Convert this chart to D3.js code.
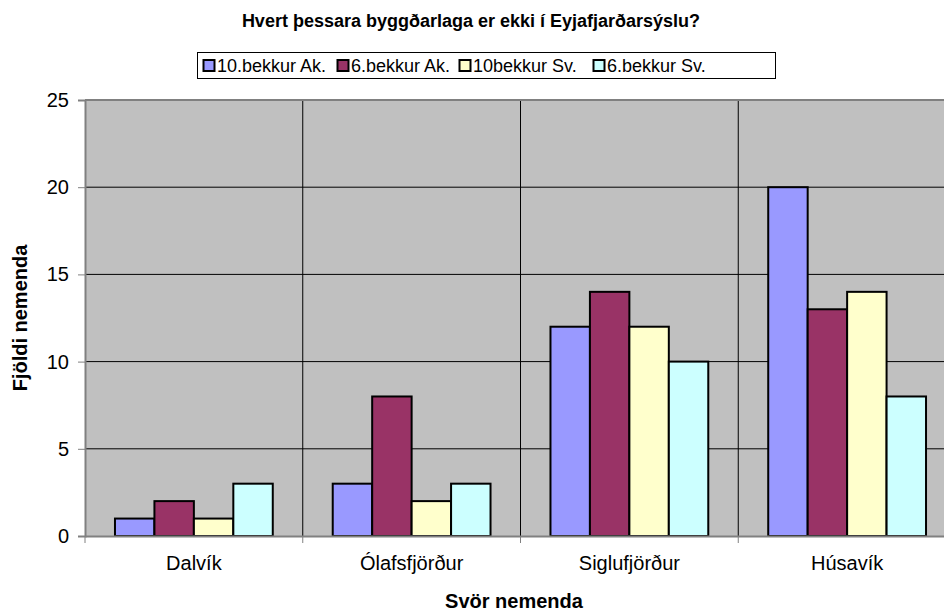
<!DOCTYPE html>
<html>
<head>
<meta charset="utf-8">
<script src="https://cdn.jsdelivr.net/npm/d3@7"></script>
<style>
  body { margin: 0; background: #fff; }
  text { font-family: "Liberation Sans", Arial, sans-serif; }
</style>
</head>
<body>
<svg width="944" height="613"></svg>
<script>
// data
var categories = ["Dalvík", "Ólafsfjörður", "Siglufjörður", "Húsavík"];
var seriesNames = ["10.bekkur Ak.", "6.bekkur Ak.", "10bekkur Sv.", "6.bekkur Sv."];
var seriesColors = ["#9999FF", "#993366", "#FFFFCC", "#CCFFFF"];
var tenAk = [1, 3, 12, 20];
var sixAk = [2, 8, 14, 13];
var tenSv = [1, 2, 12, 14];
var sixSv = [3, 3, 10, 8];
var yTicks = [0, 5, 10, 15, 20, 25];

var seriesValues = [tenAk, sixAk, tenSv, sixSv];

var svg = d3.select("svg");
var plotLeft = 85, plotTop = 100, plotRight = 956, plotBottom = 536;

var x = d3.scaleBand().domain(categories).range([plotLeft, plotRight]);
var x1 = d3.scaleBand().domain(d3.range(seriesNames.length))
    .range([0, x.bandwidth()]).paddingOuter(0.76);
var y = d3.scaleLinear().domain([0, 25]).range([plotBottom, plotTop]);

// plot background
svg.append("rect")
    .attr("x", plotLeft).attr("y", plotTop)
    .attr("width", plotRight - plotLeft).attr("height", plotBottom - plotTop)
    .attr("fill", "#C0C0C0");

// horizontal gridlines
svg.append("g").selectAll("line")
  .data(yTicks.filter(d => d > 0 && d < 25))
  .enter().append("line")
    .attr("x1", plotLeft).attr("x2", plotRight)
    .attr("y1", d => y(d)).attr("y2", d => y(d))
    .attr("stroke", "#000").attr("stroke-width", 1);

// vertical gridlines between categories
svg.append("g").selectAll("line")
  .data(categories.slice(1))
  .enter().append("line")
    .attr("x1", d => x(d)).attr("x2", d => x(d))
    .attr("y1", plotTop).attr("y2", plotBottom)
    .attr("stroke", "#000").attr("stroke-width", 1);

// top border
svg.append("line")
    .attr("x1", plotLeft).attr("x2", plotRight)
    .attr("y1", plotTop).attr("y2", plotTop)
    .attr("stroke", "#808080").attr("stroke-width", 2);

// bars
svg.append("g").selectAll("g")
  .data(seriesValues)
  .enter().append("g")
    .attr("fill", (d, i) => seriesColors[i])
  .each(function(vals, si) {
    d3.select(this).selectAll("rect")
      .data(vals)
      .enter().append("rect")
        .attr("x", (v, ci) => x(categories[ci]) + x1(si))
        .attr("y", v => y(v))
        .attr("width", x1.bandwidth())
        .attr("height", v => plotBottom - y(v))
        .attr("stroke", "#000")
        .attr("stroke-width", 2);
  });

// y axis
var yAxis = svg.append("g")
    .attr("transform", "translate(" + plotLeft + ",0)")
    .call(d3.axisLeft(y).tickValues(yTicks).tickSize(7).tickPadding(9));
yAxis.select(".domain").attr("stroke", "#808080").attr("stroke-width", 2);
yAxis.selectAll(".tick line").attr("stroke", "#808080").attr("stroke-width", 1);
yAxis.selectAll(".tick text").attr("font-size", 20).attr("fill", "#000")
    .attr("font-family", "Liberation Sans, Arial, sans-serif");

// x axis
var xAxis = svg.append("g")
    .attr("transform", "translate(0," + plotBottom + ")")
    .call(d3.axisBottom(x).tickSize(0).tickPadding(20));
xAxis.select(".domain").attr("stroke", "#808080").attr("stroke-width", 2);
xAxis.selectAll(".tick text").attr("font-size", 20).attr("fill", "#000")
    .attr("font-family", "Liberation Sans, Arial, sans-serif");
// category boundary ticks
svg.append("g").selectAll("line")
  .data(categories)
  .enter().append("line")
    .attr("x1", d => x(d)).attr("x2", d => x(d))
    .attr("y1", plotBottom).attr("y2", plotBottom + 7)
    .attr("stroke", "#808080").attr("stroke-width", 1);

// title
svg.append("text")
    .attr("x", 471).attr("y", 27)
    .attr("text-anchor", "middle")
    .attr("font-size", 18).attr("font-weight", "bold")
    .text("Hvert þessara byggðarlaga er ekki í Eyjafjarðarsýslu?");

// axis titles
svg.append("text")
    .attr("x", 514).attr("y", 608)
    .attr("text-anchor", "middle")
    .attr("font-size", 20).attr("font-weight", "bold")
    .text("Svör nemenda");

svg.append("text")
    .attr("transform", "translate(27,318) rotate(-90)")
    .attr("text-anchor", "middle")
    .attr("font-size", 20).attr("font-weight", "bold")
    .text("Fjöldi nemenda");

// legend
var legend = svg.append("g");
legend.append("rect")
    .attr("x", 197.5).attr("y", 52.5)
    .attr("width", 578).attr("height", 26)
    .attr("fill", "#fff").attr("stroke", "#000");

var legendX = [203, 337, 459, 593];
var items = legend.selectAll("g.item")
  .data(seriesNames)
  .enter().append("g")
    .attr("class", "item")
    .attr("transform", (d, i) => "translate(" + legendX[i] + ",0)");
items.append("rect")
    .attr("x", 0.5).attr("y", 60)
    .attr("width", 11).attr("height", 11)
    .attr("fill", (d, i) => seriesColors[i])
    .attr("stroke", "#000").attr("stroke-width", 2);
items.append("text")
    .attr("x", 14).attr("y", 72)
    .attr("font-size", 18)
    .text(d => d);
</script>
</body>
</html>
